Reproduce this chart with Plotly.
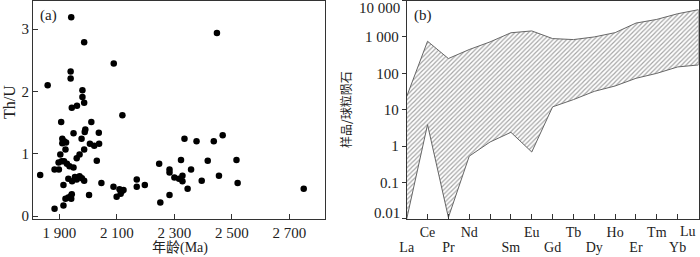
import plotly.graph_objects as go

# ---------------- Data (a) ----------------
ages = [1833, 1859, 1883, 1883, 1898, 1897, 1903, 1906, 1910, 1910,
        1914, 1914, 1916, 1908, 1916, 1921, 1923, 1926, 1921, 1931,
        1939, 1943, 1941, 1931, 1935, 1941, 1939, 1939, 1943, 1949,
        1949, 1944, 1954, 1960, 1961, 1960, 1970, 1970, 1977, 1978,
        1980, 1980, 1986, 1986, 1986, 1988, 1990, 1986, 2003, 2006,
        2011, 2021, 2030, 2038, 2037, 2046, 2089, 2088, 2099, 2109,
        2117, 2113, 2123, 2119, 2169, 2169, 2197, 2247, 2251, 2283,
        2283, 2283, 2300, 2316, 2323, 2328, 2328, 2335, 2346, 2358,
        2377, 2395, 2416, 2437, 2448, 2455, 2468, 2516, 2520, 2750]
th_u = [0.66, 2.10, 0.12, 0.75, 0.75, 0.86, 0.99, 1.51, 1.24, 1.17,
        0.17, 0.50, 1.20, 0.88, 0.88, 1.07, 1.18, 0.84, 0.28, 0.30,
        0.32, 0.35, 0.28, 0.60, 0.80, 3.19, 2.32, 2.21, 1.74, 0.78,
        1.33, 0.56, 0.63, 0.93, 1.77, 0.59, 0.99, 0.64, 1.24, 0.61,
        2.02, 1.91, 1.82, 2.79, 1.07, 1.35, 1.39, 0.57, 0.34, 1.16,
        1.51, 1.13, 0.89, 1.16, 1.34, 0.53, 2.45, 0.47, 0.31, 0.43,
        0.40, 0.36, 0.42, 1.62, 0.59, 0.47, 0.50, 0.84, 0.22, 0.75,
        0.70, 0.34, 0.62, 0.60, 0.90, 0.65, 0.56, 1.24, 0.44, 0.75,
        1.20, 0.57, 0.89, 1.20, 2.94, 0.65, 1.30, 0.90, 0.53, 0.44]
age_ticks = [1900, 2100, 2300, 2500, 2700]
age_ticktext = ["1 900", "2 100", "2 300", "2 500", "2 700"]
thu_ticks = [0, 1, 2, 3]

# ---------------- Data (b) ----------------
elements = ["La", "Ce", "Pr", "Nd", "Pm", "Sm", "Eu", "Gd",
            "Tb", "Dy", "Ho", "Er", "Tm", "Yb", "Lu"]
top_row = ["Ce", "Nd", "Eu", "Tb", "Ho", "Tm", "Lu"]
bottom_row = ["La", "Pr", "Sm", "Gd", "Dy", "Er", "Yb"]
ree_upper = [23, 760, 255, 450, 730, 1300, 1460, 900,
             845, 1000, 1310, 2400, 3030, 4330, 5600]
ree_lower = [0.01, 3.9, 0.011, 0.53, 1.3, 2.4, 0.69, 12,
             19, 32, 45, 73, 100, 150, 170]
ree_ticks = [0.01, 0.1, 1, 10, 100, 1000, 10000]
ree_ticktext = ["0.01", "0.1", "1", "10", "100", "1 000", "10 000"]

FONT = "Liberation Serif, Times New Roman, serif"
AX = "#333333"
TXT = "#222222"

fig = go.Figure()

fig.add_trace(go.Scatter(
    x=ages, y=th_u, mode="markers",
    marker=dict(size=6.5, color="black"),
    xaxis="x", yaxis="y", showlegend=False, hoverinfo="skip"))

idx = list(range(len(elements)))
fig.add_trace(go.Scatter(
    x=idx + idx[::-1], y=ree_upper + ree_lower[::-1],
    mode="lines", fill="toself",
    line=dict(color="#666666", width=1),
    fillcolor="white",
    fillpattern=dict(shape="/", fgcolor="#4a4a4a", bgcolor="white",
                     size=3.2, solidity=0.36),
    xaxis="x2", yaxis="y2", showlegend=False, hoverinfo="skip"))
# invisible trace to activate the bottom-row label axis
fig.add_trace(go.Scatter(
    x=[elements.index(e) for e in bottom_row], y=[1] * len(bottom_row),
    mode="markers", marker=dict(size=0, opacity=0),
    xaxis="x3", yaxis="y2", showlegend=False, hoverinfo="skip"))

ydom = [0.148, 0.998]
x2dom = [406.7/700, 698.5/700]
# edge labels (first/last) are placed as annotations, nudged inwards
y2_ticktext = [""] + ree_ticktext[1:-1] + [""]
x2_ticktext = [e if (e in top_row and e != elements[-1]) else "" for e in elements]

fig.update_layout(
    width=700, height=257,
    margin=dict(l=0, r=0, t=0, b=0),
    paper_bgcolor="white", plot_bgcolor="white",
    font=dict(family=FONT, size=15, color=TXT),
    xaxis=dict(domain=[33/700, 325/700], range=[1808, 2824],
               tickvals=age_ticks, ticktext=age_ticktext, tickangle=0,
               ticks="inside", ticklen=5, tickcolor=AX,
               showline=True, linecolor=AX, linewidth=1, mirror=True,
               showgrid=False, zeroline=False, automargin=False,
               tickfont=dict(size=15)),
    yaxis=dict(domain=ydom, range=[-0.045, 3.46],
               tickvals=thu_ticks,
               ticks="inside", ticklen=5, tickcolor=AX,
               showline=True, linecolor=AX, linewidth=1, mirror=True,
               showgrid=False, zeroline=False, automargin=False,
               tickfont=dict(size=15)),
    xaxis2=dict(domain=x2dom, range=[0, 14], anchor="y2",
                tickvals=idx, ticktext=x2_ticktext,
                tickangle=0, ticklabeloverflow="allow",
                ticks="inside", ticklen=5, tickcolor=AX,
                showline=True, linecolor=AX, linewidth=1, mirror=True,
                showgrid=False, zeroline=False, automargin=False,
                tickfont=dict(size=14)),
    xaxis3=dict(domain=x2dom, range=[0, 14], anchor="y2", overlaying="x2",
                side="bottom",
                tickvals=[elements.index(e) for e in bottom_row],
                ticktext=bottom_row, tickangle=0, ticklabeloverflow="allow",
                ticks="", showline=False, showgrid=False, zeroline=False,
                automargin=False, ticklabelstandoff=18,
                tickfont=dict(size=14)),
    yaxis2=dict(domain=ydom, type="log", range=[-2, 4], anchor="x2",
                tickvals=ree_ticks, ticktext=y2_ticktext,
                ticks="outside", ticklen=4, tickcolor=AX,
                showline=True, linecolor=AX, linewidth=1, mirror=True,
                showgrid=False, zeroline=False, automargin=False,
                tickfont=dict(size=15)),
    annotations=[
        dict(text="(a)", xref="paper", yref="paper", x=38/700, y=1-15/257,
             xanchor="left", yanchor="middle", showarrow=False,
             font=dict(size=15)),
        dict(text="(b)", xref="paper", yref="paper", x=412/700, y=1-15/257,
             xanchor="left", yanchor="middle", showarrow=False,
             font=dict(size=15)),
        dict(text=ree_ticktext[-1], xref="paper", yref="paper", x=402/700,
             y=1-8/257, xanchor="right", yanchor="middle", showarrow=False,
             font=dict(size=15)),
        dict(text=ree_ticktext[0], xref="paper", yref="paper", x=402/700,
             y=1-213/257, xanchor="right", yanchor="middle", showarrow=False,
             font=dict(size=15)),
        dict(text=elements[-1], xref="paper", yref="paper", x=688/700,
             y=1-231/257, xanchor="center", yanchor="middle", showarrow=False,
             font=dict(size=14)),
        dict(text="Th/U", xref="paper", yref="paper", x=10/700, y=1-102/257,
             xanchor="center", yanchor="middle", showarrow=False, textangle=-90,
             font=dict(size=16)),
        dict(text="样品/球粒陨石", xref="paper", yref="paper", x=345/700,
             y=1-110/257, xanchor="center", yanchor="middle", showarrow=False,
             textangle=-90,
             font=dict(size=12, family="Noto Sans CJK SC, serif", color=TXT)),
        dict(text="年龄(Ma)", xref="paper", yref="paper", x=180/700,
             y=1-248/257, xanchor="center", yanchor="middle", showarrow=False,
             font=dict(size=14, family="Liberation Serif, Noto Sans CJK SC, serif")),
    ],
)

fig.write_html("out.html",
               config={"displayModeBar": False},
               post_script="document.body.style.margin='0';document.body.style.padding='0';")
